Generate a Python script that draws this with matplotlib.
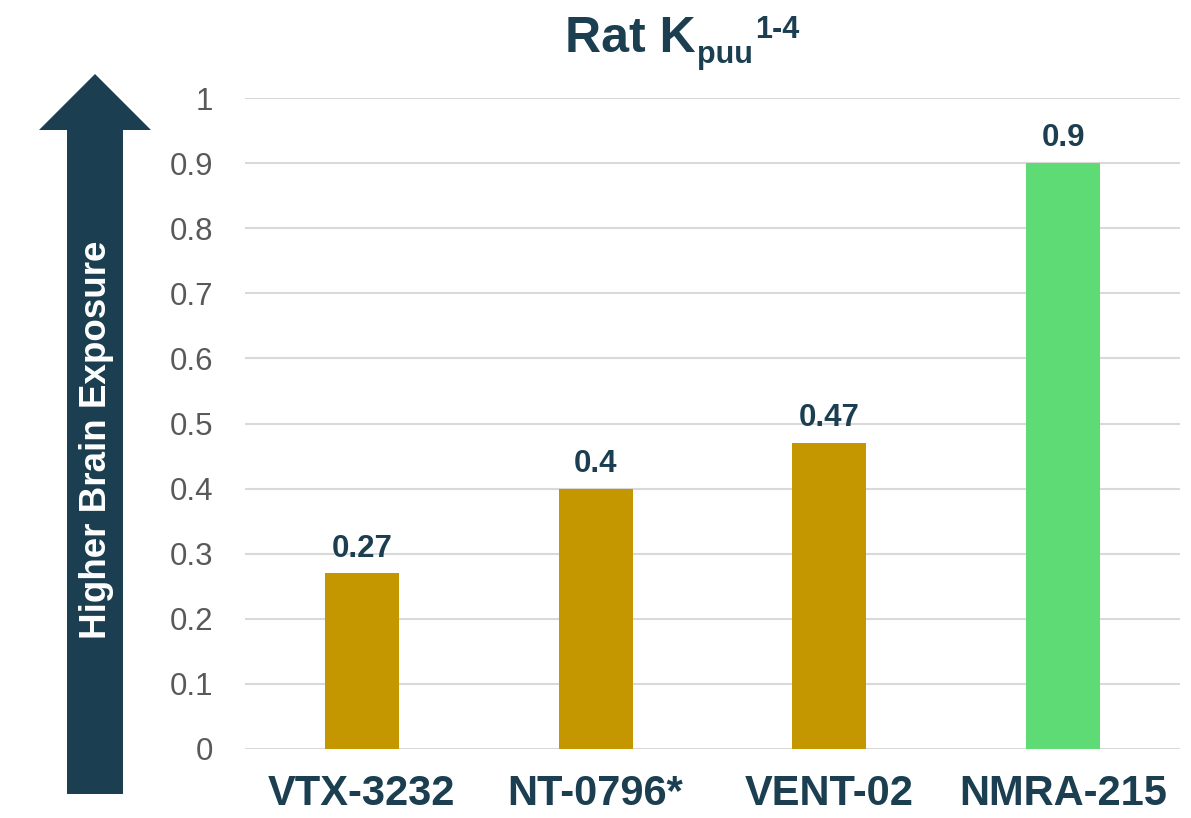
import numpy as np
import matplotlib.pyplot as plt
from matplotlib.patches import Polygon

plt.rcParams['font.family'] = ['Liberation Sans', 'DejaVu Sans']

# data
compounds = ['VTX-3232', 'NT-0796*', 'VENT-02', 'NMRA-215']
kpuu = [0.27, 0.4, 0.47, 0.9]
bar_colors = ['#c49700', '#c49700', '#c49700', '#5edb75']
yticks = [0, 0.1, 0.2, 0.3, 0.4, 0.5, 0.6, 0.7, 0.8, 0.9, 1]
ytick_labels = ['0', '0.1', '0.2', '0.3', '0.4', '0.5', '0.6', '0.7', '0.8', '0.9', '1']

navy = '#1b3f50'
W, H = 1191, 818

fig = plt.figure(figsize=(W / 100, H / 100), dpi=100)
ax = fig.add_axes([245 / W, 1 - 749 / H, 935 / W, 651 / H])

x = np.arange(len(compounds))
ax.bar(x, kpuu, width=0.317, color=bar_colors, zorder=3)
for xi, v in zip(x, kpuu):
    ax.annotate('{:g}'.format(v), (xi, v), xytext=(0, 12), textcoords='offset points',
                ha='center', va='baseline', fontsize=22.5, fontweight='bold', color=navy)

ax.set_xlim(-0.5, 3.5)
ax.set_ylim(0, 1)
ax.set_yticks(yticks)
ax.set_yticklabels(ytick_labels, fontsize=22.5, color='#595959')
ax.set_xticks(x)
ax.set_xticklabels(compounds, fontsize=30, fontweight='bold', color=navy)
ax.tick_params(axis='y', length=0, pad=23)
ax.tick_params(axis='x', length=0, pad=18)
ax.yaxis.grid(True, color='#d9d9d9', linewidth=1.5, zorder=0)
for s in ax.spines.values():
    s.set_visible(False)

# arrow on the left
def px(xp, yp):
    return (xp / W, 1 - yp / H)

arrow_pts = [px(95, 74), px(151, 130), px(123, 130), px(123, 794),
             px(67, 794), px(67, 130), px(39, 130)]
fig.patches.append(Polygon(arrow_pts, closed=True, transform=fig.transFigure,
                           facecolor=navy, edgecolor='none'))
fig.text(97 / W, 1 - 440 / H, 'Higher Brain Exposure', rotation=90, ha='center', va='center',
         fontsize=26.5, fontweight='bold', color='white')

# title
fig.text(565 / W, 1 - 52 / H, 'Rat K', fontsize=36, fontweight='bold', color=navy, va='baseline')
fig.text(697 / W, 1 - 63 / H, 'puu', fontsize=22, fontweight='bold', color=navy, va='baseline')
fig.text(755 / W, 1 - 38 / H, '1-4', fontsize=22, fontweight='bold', color=navy, va='baseline')

plt.savefig('out.png', dpi=100)
